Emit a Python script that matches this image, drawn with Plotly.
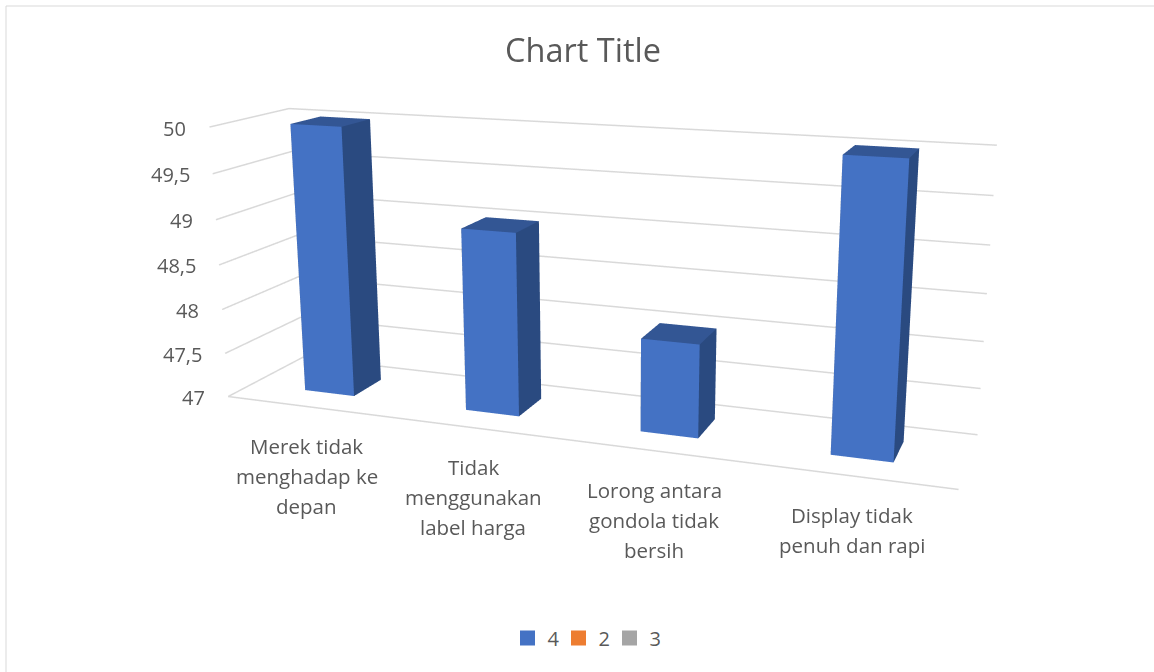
import plotly.graph_objects as go

category_lines = [["Merek tidak", "menghadap ke", "depan"],
                  ["Tidak", "menggunakan", "label harga"],
                  ["Lorong antara", "gondola tidak", "bersih"],
                  ["Display tidak", "penuh dan rapi"]]
series_4 = [50, 49, 48, 50]
series_2 = [None]
series_3 = [None]
z_ticks = [47, 47.5, 48, 48.5, 49, 49.5, 50]
z_labels = ["47", "47,5", "48", "48,5", "49", "49,5", "50"]

# Layout: a long-lens 3D camera needs a scene taller than the page, so the page is offset upward by T.
Wl, Hl, T = 1224, 1222, 318
PAD = 0.005  # fraction of each axis kept free so marks on the bounds are not clipped
AX, AY, AZ = 2.3807 * (1 + 2 * PAD), 0.4678 * (1 + 2 * PAD), 0.8979 * (1 + 2 * PAD)
EYE = (1.5812, -4.1751, 1.1252)
CEN = (0.0733, 0.0153, -0.0431)
UP = (-0.0016, 0.0006, 1)
BAR_W, Y0, Y1 = 0.3125, 0.3112, 0.7069
FRONT, SIDE, TOP = "#4472C4", "#2A4A80", "#335694"
FONT, GR, GRID = "Open Sans", "#595959", "#D9D9D9"

fig = go.Figure()
vx, vy, vz, ii, jj, kk, fc = [], [], [], [], [], [], []
for n, v in enumerate(series_4):
    xa, xb = n + .5 - BAR_W / 2, n + .5 + BAR_W / 2
    b = len(vx)
    vx += [xa, xb, xb, xa, xa, xb, xb, xa]
    vy += [Y0, Y0, Y1, Y1, Y0, Y0, Y1, Y1]
    vz += [47] * 4 + [v] * 4
    for q, col in [((0, 1, 5, 4), FRONT), ((1, 2, 6, 5), SIDE), ((4, 5, 6, 7), TOP), ((0, 3, 7, 4), SIDE), ((3, 2, 6, 7), SIDE)]:
        ii += [b + q[0], b + q[0]]
        jj += [b + q[1], b + q[2]]
        kk += [b + q[2], b + q[3]]
        fc += [col, col]
gx, gy, gz = [0, 4, None], [0, 0, None], [47, 47, None]
for t in z_ticks:
    gx += [0, 0, 4, None]
    gy += [0, 1, 1, None]
    gz += [t, t, t, None]
fig.add_trace(go.Scatter3d(x=gx, y=gy, z=gz, mode="lines", line=dict(color=GRID, width=3), showlegend=False, hoverinfo="skip"))
fig.add_trace(go.Mesh3d(x=vx, y=vy, z=vz, i=ii, j=jj, k=kk, facecolor=fc, flatshading=True, showlegend=False, hoverinfo="skip",
                        lighting=dict(ambient=1, diffuse=0, specular=0, fresnel=0, roughness=1)))
for name, col, vals in [("4", "#4472C4", [None]), ("2", "#ED7D31", series_2), ("3", "#A5A5A5", series_3)]:
    fig.add_trace(go.Scatter3d(x=vals, y=vals, z=vals, mode="markers", name=name, marker=dict(symbol="square", color=col, size=15)))


def axis_off(lo, hi):
    pad = (hi - lo) * PAD
    return dict(range=[lo - pad, hi + pad], showgrid=False, zeroline=False, showline=False, showticklabels=False, ticks="",
                title="", showbackground=False, showspikes=False)


anns = []
for n, lines in enumerate(category_lines):
    for k, line in enumerate(lines):
        anns.append(dict(x=n + .5, y=0, z=47, text=line, showarrow=False, xanchor="center", yanchor="middle",
                         yshift=-39.5 - 30 * k, font=dict(family=FONT, size=20.5, color=GR)))
for t, lab in zip(z_ticks, z_labels):
    anns.append(dict(x=0, y=0, z=t, text=lab, showarrow=False, xanchor="right", yanchor="middle", xshift=-21, yshift=-1,
                     font=dict(family=FONT, size=20, color=GR)))

fig.update_layout(
    width=Wl, height=Hl, margin=dict(l=0, r=0, t=0, b=0), paper_bgcolor="white",
    scene=dict(domain=dict(x=[0, 1], y=[0, 1]), aspectmode="manual", aspectratio=dict(x=AX, y=AY, z=AZ),
               camera=dict(eye=dict(x=EYE[0], y=EYE[1], z=EYE[2]), center=dict(x=CEN[0], y=CEN[1], z=CEN[2]),
                           up=dict(x=UP[0], y=UP[1], z=UP[2]), projection=dict(type="perspective")),
               xaxis=axis_off(0, 4), yaxis=axis_off(0, 1), zaxis=axis_off(47, 50), annotations=anns),
    legend=dict(orientation="h", x=584 / Wl, xanchor="center", y=1 - (638 + T) / Hl, yanchor="middle",
                font=dict(family=FONT, size=20, color=GR), entrywidth=6, entrywidthmode="pixels"),
    annotations=[dict(x=582.5 / Wl, y=1 - (50 + T) / Hl, xref="paper", yref="paper", xanchor="center", yanchor="middle",
                      text="Chart Title", showarrow=False, font=dict(family=FONT, size=32.5, color=GR))],
    shapes=[dict(type="rect", xref="paper", yref="paper", x0=6 / Wl, x1=1.2, y0=-1, y1=1 - (6 + T) / Hl,
                 line=dict(color=GRID, width=1))])
fig.write_html("out.html", post_script="document.body.style.margin='0';document.body.style.overflow='hidden';"
               "document.documentElement.style.overflow='hidden';"
               "document.getElementsByClassName('plotly-graph-div')[0].style.marginTop='-%dpx';" % T)
